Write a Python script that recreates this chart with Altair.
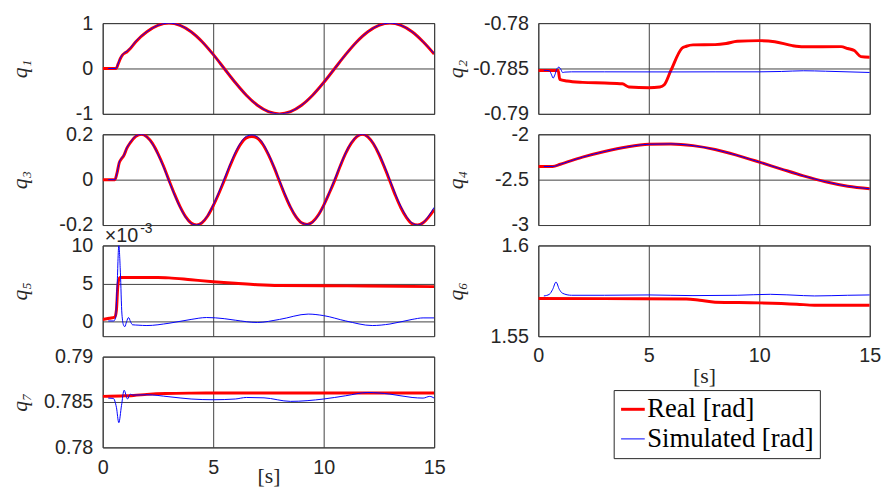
import altair as alt
import pandas as pd

SERIES = ["Real [rad]", "Simulated [rad]"]
X_TICKS = [0, 5, 10, 15]

# ---- q1 ----
q1_t_real = [0, 0.6, 0.7, 0.8, 0.9, 1.0, 1.1, 1.25, 1.5, 2, 2.5, 3, 3.5, 4, 4.5, 5, 5.5, 6, 6.5, 7, 7.5, 8,
             8.5, 9, 9.5, 10, 10.5, 11, 11.5, 12, 12.5, 13, 13.5, 14, 14.5, 15]
q1_real = [0, 0, 0.1, 0.22, 0.3, 0.34, 0.37, 0.44, 0.59, 0.81, 0.95, 1.0, 0.95, 0.81, 0.59, 0.31, 0.0, -0.31,
           -0.59, -0.81, -0.95, -1.0, -0.95, -0.81, -0.59, -0.31, 0.0, 0.31, 0.59, 0.81, 0.95, 1.0, 0.95, 0.81,
           0.59, 0.32]
q1_t_sim = [0.25, 0.6, 0.7, 0.8, 0.9, 1.0, 1.1, 1.25, 1.5, 2, 2.5, 3, 3.5, 4, 4.5, 5, 5.5, 6, 6.5, 7, 7.5, 8,
            8.5, 9, 9.5, 10, 10.5, 11, 11.5, 12, 12.5, 13, 13.5, 14, 14.5, 15]
q1_sim = [0, 0, 0.11, 0.23, 0.31, 0.35, 0.38, 0.45, 0.6, 0.81, 0.95, 1.0, 0.95, 0.81, 0.59, 0.31, 0.0, -0.31,
          -0.59, -0.81, -0.95, -1.0, -0.95, -0.81, -0.59, -0.31, 0.0, 0.31, 0.59, 0.81, 0.95, 1.0, 0.95, 0.81,
          0.59, 0.33]

# ---- q3 ----
q3_t_real = [0, 0.55, 0.65, 0.75, 0.85, 0.95, 1.1, 1.25, 1.5, 1.75, 2.0, 2.25, 2.5, 2.75, 3.0, 3.25, 3.5, 3.75,
             4.0, 4.25, 4.5, 4.75, 5.0, 5.25, 5.5, 5.75, 6.0, 6.25, 6.5, 6.75, 7.0, 7.25, 7.5, 7.75, 8.0, 8.25,
             8.5, 8.75, 9.0, 9.25, 9.5, 9.75, 10.0, 10.25, 10.5, 10.75, 11.0, 11.25, 11.5, 11.75, 12.0, 12.25,
             12.5, 12.75, 13.0, 13.25, 13.5, 13.75, 14.0, 14.25, 14.5, 14.75, 15.0]
q3_real = [0, 0, 0.03, 0.075, 0.092, 0.105, 0.14, 0.163, 0.191, 0.2, 0.189, 0.16, 0.115, 0.06, -0.003, -0.064,
           -0.119, -0.163, -0.191, -0.2, -0.189, -0.16, -0.115, -0.062, -0.004, 0.058, 0.114, 0.158, 0.184,
           0.19, 0.183, 0.155, 0.11, 0.055, -0.007, -0.068, -0.122, -0.164, -0.19, -0.197, -0.186, -0.157,
           -0.113, -0.06, -0.003, 0.06, 0.117, 0.161, 0.19, 0.2, 0.189, 0.158, 0.112, 0.055, -0.007, -0.07,
           -0.125, -0.167, -0.194, -0.2, -0.19, -0.165, -0.132]
q3_t_sim = [0.25] + q3_t_real[1:]
q3_sim = [0, 0, 0.03, 0.077, 0.094, 0.107, 0.142, 0.165, 0.193, 0.2, 0.188, 0.158, 0.112, 0.057, -0.006, -0.067,
          -0.121, -0.165, -0.192, -0.2, -0.188, -0.158, -0.112, -0.057, 0.003, 0.064, 0.12, 0.164, 0.191,
          0.197, 0.188, 0.16, 0.114, 0.058, -0.003, -0.064, -0.119, -0.163, -0.19, -0.197, -0.188, -0.159,
          -0.114, -0.058, 0.002, 0.063, 0.119, 0.163, 0.191, 0.2, 0.189, 0.16, 0.115, 0.06, -0.002, -0.064,
          -0.119, -0.163, -0.191, -0.2, -0.19, -0.16, -0.122]

# ---- q5 (x 1e-3) ----
q5_t_real = [0, 0.3, 0.55, 0.62, 0.68, 0.75, 0.8, 1.5, 2.5, 3.0, 4.0, 5.0, 6.0, 7.0, 8.0, 10.0, 12.0, 15.0]
q5_real = [0.3, 0.45, 0.6, 1.5, 4.5, 5.7, 5.8, 5.8, 5.8, 5.75, 5.5, 5.25, 5.05, 4.85, 4.75, 4.72, 4.68, 4.6]
q5_t_sim = [0.25, 0.5, 0.58, 0.65, 0.73, 0.8, 0.87, 0.95, 1.0, 1.08, 1.17, 1.26, 1.35, 1.6, 2.0, 3.0, 4.0, 4.7,
            5.5, 6.0, 7.0, 8.0, 9.3, 10.0, 11.0, 12.2, 13.0, 14.0, 14.5, 15.0]
q5_sim = [0.1, 0.1, 0.5, 4.5, 10.0, 6.5, 1.0, -0.5, -0.65, 0.0, 0.55, 0.0, -0.4, -0.45, -0.5, -0.2, 0.3, 0.55,
          0.4, 0.2, -0.1, 0.3, 1.0, 0.8, 0.1, -0.5, -0.3, 0.3, 0.5, 0.5]

# ---- q7 ----
q7_t_real = [0, 1.0, 1.4, 2.0, 2.86, 4.0, 6.0, 8.0, 10.0, 12.0, 15.0]
q7_real = [0.78562, 0.78568, 0.78572, 0.78584, 0.78594, 0.78598, 0.786, 0.786, 0.786, 0.786, 0.786]
q7_t_sim = [0.25, 0.48, 0.62, 0.73, 0.85, 0.97, 1.12, 1.25, 1.37, 2.0, 3.0, 4.0, 5.0, 6.0, 6.5, 7.3, 8.5, 10.0,
            11.0, 12.0, 13.0, 14.0, 14.5, 14.8, 15.0]
q7_sim = [0.78543, 0.7854, 0.78442, 0.78272, 0.7846, 0.7863, 0.78533, 0.78587, 0.78576, 0.7858, 0.78558,
          0.78533, 0.78525, 0.78533, 0.7855, 0.78546, 0.78507, 0.78533, 0.78569, 0.78605, 0.78587, 0.7855,
          0.78543, 0.78562, 0.78543]

# ---- q2 ----
q2_t_real = [0, 0.9, 0.97, 1.3, 2.0, 3.0, 3.8, 4.1, 5.0, 5.5, 5.7, 6.0, 6.5, 6.7, 7.0, 8.0, 8.5, 9.0, 10.0, 10.7,
             11.5, 12.0, 13.7, 14.0, 14.3, 14.6, 15.0]
q2_real = [-0.78522, -0.78522, -0.7862, -0.78638, -0.78653, -0.7866, -0.78668, -0.78704, -0.78712, -0.78705,
           -0.7868, -0.78522, -0.78277, -0.78255, -0.7824, -0.78237, -0.78225, -0.78201, -0.78193, -0.78205,
           -0.78248, -0.7826, -0.78259, -0.7828, -0.78303, -0.78369, -0.78376]
q2_t_sim = [0.25, 0.5, 0.6, 0.67, 0.75, 0.85, 0.93, 1.02, 1.1, 1.2, 1.5, 3.0, 6.0, 8.0, 10.0, 11.0, 12.0, 13.0,
            15.0]
q2_sim = [-0.7852, -0.78525, -0.7857, -0.78606, -0.7857, -0.785, -0.78485, -0.7851, -0.78545, -0.7854,
          -0.78537, -0.78537, -0.78538, -0.78537, -0.78537, -0.78533, -0.78525, -0.7853, -0.78544]

# ---- q4 ----
q4_t_real = [0, 0.65, 1, 2, 3, 4, 5, 6, 7, 8, 9, 10, 11, 12, 13, 14, 15]
q4_real = [-2.355, -2.355, -2.33, -2.252, -2.19, -2.14, -2.11, -2.106, -2.125, -2.168, -2.232, -2.306, -2.383,
           -2.458, -2.523, -2.572, -2.6]
q4_t_sim = [0.25] + q4_t_real[1:]
q4_sim = [-2.355, -2.355, -2.33, -2.252, -2.19, -2.14, -2.11, -2.106, -2.125, -2.168, -2.232, -2.306, -2.383,
          -2.458, -2.523, -2.572, -2.6]

# ---- q6 ----
q6_t_real = [0, 3.0, 6.7, 7.3, 8.0, 10.0, 11.7, 12.5, 15.0]
q6_real = [1.57073, 1.5707, 1.57055, 1.56982, 1.56873, 1.56836, 1.56764, 1.56709, 1.56709]
q6_t_sim = [0.25, 0.5, 0.65, 0.8, 0.95, 1.1, 1.5, 3.0, 5.0, 7.0, 9.0, 10.5, 12.0, 12.5, 14.0, 15.0]
q6_sim = [1.57218, 1.57309, 1.57582, 1.57982, 1.57582, 1.57364, 1.57255, 1.57255, 1.57273, 1.57236, 1.57255,
          1.57309, 1.57236, 1.57218, 1.57255, 1.57273]

W, H = 336, 92
LEG = dict(orient="none", legendX=518, legendY=372, title=None)


def panel(label, tr, vr, ts, vs, domain, ticks, bottom=False, title_y=36, extra=None):
    df = pd.DataFrame({
        "t": tr + ts,
        "v": vr + vs,
        "series": [SERIES[0]] * len(tr) + [SERIES[1]] * len(ts),
    })
    if bottom:
        xaxis = alt.Axis(values=X_TICKS, labels=True, title="[s]", titleY=title_y,
                         titleBaseline="alphabetic", titleFont="Liberation Serif",
                         titleFontSize=22, titleFontWeight="normal", titleColor="#262626",
                         labelFlush=False, labelExpr="'' + datum.value")
    else:
        xaxis = alt.Axis(values=X_TICKS, labels=False, title=None)
    lines = alt.Chart(df).mark_line(interpolate="monotone", clip=True).encode(
        x=alt.X("t:Q", scale=alt.Scale(domain=[0, 15], nice=False, zero=False), axis=xaxis),
        y=alt.Y("v:Q", scale=alt.Scale(domain=domain, nice=False, zero=False),
                axis=alt.Axis(values=ticks, title=label, titleX=-84, titleY=H / 2, titleAngle=270,
                              titleAlign="center", titleBaseline="middle",
                              titleFont="Liberation Serif", titleFontStyle="italic",
                              titleFontWeight="normal", titleFontSize=22, titleColor="#262626",
                              labelExpr="'' + datum.value")),
        color=alt.Color("series:N", scale=alt.Scale(domain=SERIES, range=["#ff0000", "#0000ff"]),
                        legend=alt.Legend(**LEG)),
        strokeWidth=alt.StrokeWidth("series:N", scale=alt.Scale(domain=SERIES, range=[3, 1]),
                                    legend=alt.Legend(**LEG)),
    )
    layers = [lines]
    if extra is not None:
        layers += extra
    return alt.layer(*layers).properties(width=W, height=H)


exp_df = pd.DataFrame({"s": ["×10"]})
exp_df2 = pd.DataFrame({"s": ["-3"]})
exp_text = [
    alt.Chart(exp_df).mark_text(align="left", baseline="alphabetic", font="Liberation Sans",
                                fontSize=20, color="#262626").encode(
        x=alt.value(2), y=alt.value(-4), text="s:N"),
    alt.Chart(exp_df2).mark_text(align="left", baseline="alphabetic", font="Liberation Sans",
                                 fontSize=14, color="#262626").encode(
        x=alt.value(38), y=alt.value(-13), text="s:N"),
]

left = alt.vconcat(
    panel("q₁", q1_t_real, q1_real, q1_t_sim, q1_sim, [-1, 1], [-1, 0, 1]),
    panel("q₃", q3_t_real, q3_real, q3_t_sim, q3_sim, [-0.2, 0.2], [-0.2, 0, 0.2]),
    panel("q₅", q5_t_real, q5_real, q5_t_sim, q5_sim, [-1.9, 10], [0, 5, 10], extra=exp_text),
    panel("q₇", q7_t_real, q7_real, q7_t_sim, q7_sim, [0.78, 0.79], [0.78, 0.785, 0.79],
          bottom=True, title_y=36),
    spacing=20.7, bounds="flush",
).resolve_scale(x="independent", y="independent")

right = alt.vconcat(
    panel("q₂", q2_t_real, q2_real, q2_t_sim, q2_sim, [-0.79, -0.78], [-0.79, -0.785, -0.78]),
    panel("q₄", q4_t_real, q4_real, q4_t_sim, q4_sim, [-3, -2], [-3, -2.5, -2]),
    panel("q₆", q6_t_real, q6_real, q6_t_sim, q6_sim, [1.55, 1.6], [1.55, 1.6],
          bottom=True, title_y=47),
    spacing=20.7, bounds="flush",
).resolve_scale(x="independent", y="independent")

# with flush bounds the nested column counts as zero width, so spacing = panel width + gap
chart = alt.hconcat(left, right, spacing=W + 105.6, bounds="flush").resolve_scale(
    x="independent", y="independent"
).properties(
    padding={"left": 0, "top": 1, "right": 0, "bottom": 0}
).configure_view(
    stroke="#262626", strokeWidth=1
).configure_axis(
    labelFont="Liberation Sans", labelFontSize=20, labelColor="#262626", ticks=False,
    domain=False, gridColor="#404040", gridOpacity=1, gridWidth=1, labelPadding=10,
    labelOverlap=False
).configure_legend(
    strokeColor="#262626", fillColor="white", padding=6, rowPadding=2,
    labelFont="Liberation Serif", labelFontSize=27, labelColor="black", labelOffset=1,
    symbolType="stroke", symbolSize=576, labelLimit=400
)

chart.save("out.html", embed_options={"renderer": "svg", "actions": False})
